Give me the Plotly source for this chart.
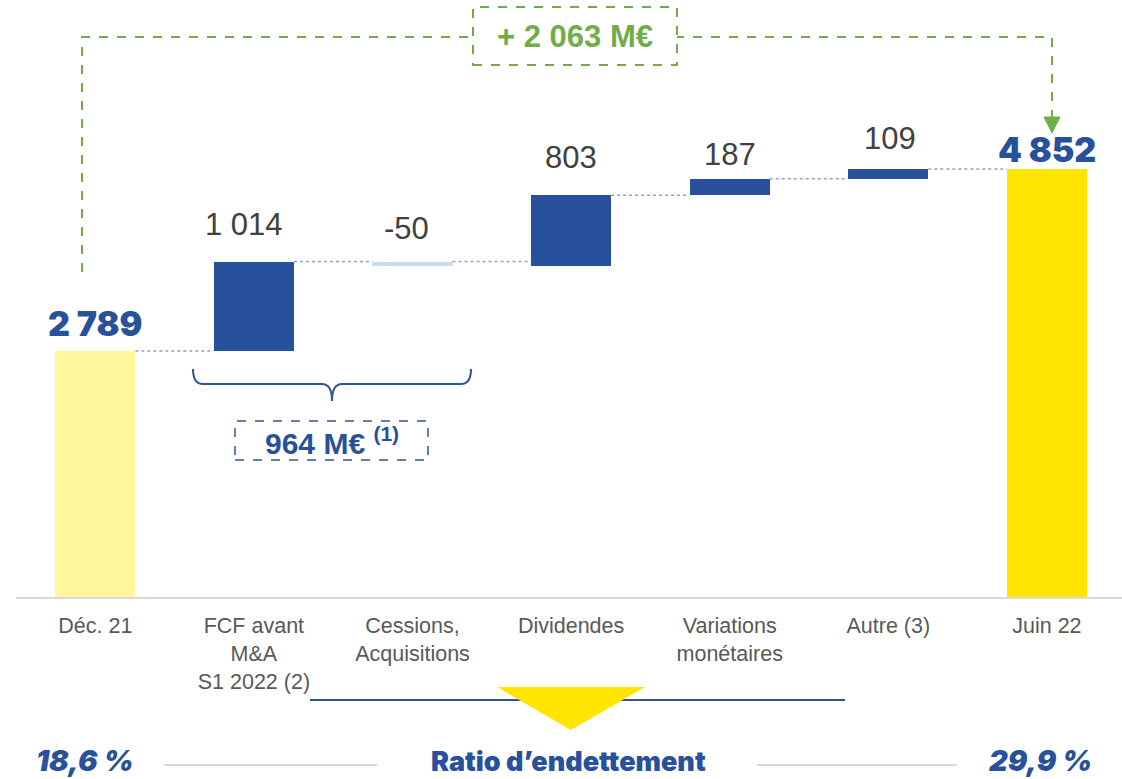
import plotly.graph_objects as go

# ---------------- data ----------------
categories = ["Déc. 21", "FCF avant<br>M&A<br>S1 2022 (2)", "Cessions,<br>Acquisitions",
              "Dividendes", "Variations<br>monétaires", "Autre (3)", "Juin 22"]
start_value = 2789
step_values = [1014, -50, 803, 187, 109]
end_value = 4852
value_labels = ["2 789", "1 014", "-50", "803", "187", "109", "4 852"]
total_change_label = "+ 2 063 M€"
subtotal_label = "964 M€"
subtotal_note = "(1)"
ratio_start = "18,6 %"
ratio_end = "29,9 %"
ratio_title = "Ratio d’endettement"

# ---------------- styles ----------------
BLUE = "#27519B"
LIGHT_BLUE = "#CCDAF2"
PALE_YELLOW = "#FFF799"
YELLOW = "#FFE500"
GREEN = "#70AD47"
TXT = "#404040"
CAT = "#595959"
SANS = "'Liberation Sans', Arial, sans-serif"
HEAVY = "Inter, 'Noto Sans', sans-serif"

W, H = 1122, 779
ML, MR, MT, MB = 16, 0, 0, 182
PW, PH = W - ML - MR, H - MT - MB
BASE_PX = MT + PH
PX_PER_CAT = 158.6
PX_PER_UNIT = 0.0882
BAR_W = 0.505

label_dx = [0, -10, -6, 0, 0, 2, 0]
label_dy = [28, 37, 33, 37.5, 24.5, 30.5, 19.5]

# ---------------- derived ----------------
levels = [start_value]
for s in step_values:
    levels.append(levels[-1] + s)
bases = [0] + [min(levels[i], levels[i + 1]) for i in range(len(step_values))] + [0]
heights = [start_value] + [abs(s) for s in step_values] + [end_value]
tops = [b + h for b, h in zip(bases, heights)]
colors = [PALE_YELLOW] + [BLUE if s > 0 else LIGHT_BLUE for s in step_values] + [YELLOW]
xs = list(range(len(categories)))


def ppx(x):
    return (x - ML) / PW


def ppy(y):
    return (BASE_PX - y) / PH


fig = go.Figure()
fig.add_trace(go.Bar(
    x=xs, y=heights, base=bases, width=BAR_W,
    marker=dict(color=colors, line=dict(width=0)),
    hoverinfo="skip", showlegend=False,
))

shapes = []
for i in range(len(xs) - 1):
    shapes.append(dict(type="line", xref="x", yref="y",
                       x0=xs[i] + BAR_W / 2, x1=xs[i + 1] - BAR_W / 2,
                       y0=tops[i], y1=tops[i],
                       line=dict(color="#8EA2CF", width=1.5, dash="dot")))

shapes.append(dict(type="path", xref="paper", yref="paper",
                   path=f"M {ppx(82)} {ppy(272)} L {ppx(82)} {ppy(37)} L {ppx(1052)} {ppy(37)} L {ppx(1052)} {ppy(118)}",
                   line=dict(color=GREEN, width=2, dash="dash")))
shapes.append(dict(type="path", xref="paper", yref="paper",
                   path=f"M {ppx(1044)} {ppy(117)} L {ppx(1060)} {ppy(117)} L {ppx(1052)} {ppy(133)} Z",
                   fillcolor=GREEN, line=dict(color=GREEN, width=1)))
shapes.append(dict(type="rect", xref="paper", yref="paper",
                   x0=ppx(473), x1=ppx(677), y0=ppy(65), y1=ppy(7),
                   fillcolor="white", line=dict(color=GREEN, width=2, dash="dash")))

shapes.append(dict(type="path", xref="paper", yref="paper",
                   path=(f"M {ppx(193)} {ppy(369)} Q {ppx(193)} {ppy(384)} {ppx(203)} {ppy(384)} "
                         f"L {ppx(322)} {ppy(384)} Q {ppx(332)} {ppy(384)} {ppx(332)} {ppy(401)} "
                         f"Q {ppx(332)} {ppy(384)} {ppx(342)} {ppy(384)} "
                         f"L {ppx(461)} {ppy(384)} Q {ppx(471)} {ppy(384)} {ppx(471)} {ppy(369)}"),
                   line=dict(color="#2F5597", width=2)))
shapes.append(dict(type="rect", xref="paper", yref="paper",
                   x0=ppx(235), x1=ppx(428), y0=ppy(460), y1=ppy(421),
                   fillcolor="rgba(0,0,0,0)", line=dict(color="#2F5597", width=1.5, dash="dash")))

shapes.append(dict(type="line", xref="paper", yref="paper",
                   x0=ppx(310), x1=ppx(845), y0=ppy(700), y1=ppy(700),
                   line=dict(color="#2F5597", width=2)))
shapes.append(dict(type="path", xref="paper", yref="paper",
                   path=f"M {ppx(497)} {ppy(687)} L {ppx(645)} {ppy(687)} L {ppx(571)} {ppy(730)} Z",
                   fillcolor=YELLOW, line=dict(width=0)))
for a, b in [(164, 377), (757, 957)]:
    shapes.append(dict(type="line", xref="paper", yref="paper",
                       x0=ppx(a), x1=ppx(b), y0=ppy(765), y1=ppy(765),
                       line=dict(color="#D9D9D9", width=2)))

annotations = []
for i, lab in enumerate(value_labels):
    if i == 0 or i == len(value_labels) - 1:
        font = dict(family=HEAVY, size=34, color=BLUE, weight=900)
    else:
        font = dict(family=SANS, size=31, color=TXT)
    annotations.append(dict(x=xs[i], y=tops[i], xref="x", yref="y", text=lab,
                            showarrow=False, yanchor="middle", xanchor="center",
                            xshift=label_dx[i], yshift=label_dy[i], font=font))


def pann(x, y, text, font, yanchor="middle"):
    annotations.append(dict(x=ppx(x), y=ppy(y), xref="paper", yref="paper", text=text,
                            showarrow=False, xanchor="center", yanchor=yanchor, font=font))


pann(575, 37, f"<b>{total_change_label}</b>", dict(family=SANS, size=31, color=GREEN))
pann(332, 441, f"<b>{subtotal_label} <sup>{subtotal_note}</sup></b>", dict(family=SANS, size=30, color=BLUE))
pann(85, 780, ratio_start, dict(family=HEAVY, size=29, color=BLUE, weight=900, style="italic"), "bottom")
pann(1040, 780, ratio_end, dict(family=HEAVY, size=29, color=BLUE, weight=900, style="italic"), "bottom")
pann(568, 780, ratio_title, dict(family=HEAVY, size=27, color=BLUE, weight=900), "bottom")

fig.update_layout(
    width=W, height=H,
    margin=dict(l=ML, r=MR, t=MT, b=MB, pad=0),
    paper_bgcolor="white", plot_bgcolor="white",
    bargap=0, showlegend=False,
    shapes=shapes, annotations=annotations,
    xaxis=dict(range=[-0.5, -0.5 + PW / PX_PER_CAT], tickmode="array", tickvals=xs,
               ticktext=categories, showgrid=False, zeroline=False,
               showline=True, linecolor="#D9D9D9", linewidth=2, ticks="",
               ticklabelstandoff=8,
               tickfont=dict(family=SANS, size=21.5, color=CAT), fixedrange=True),
    yaxis=dict(range=[0, PH / PX_PER_UNIT], visible=False, fixedrange=True),
)

fig.write_html("out.html", config={"displayModeBar": False},
               post_script="document.body.style.margin='0';")
